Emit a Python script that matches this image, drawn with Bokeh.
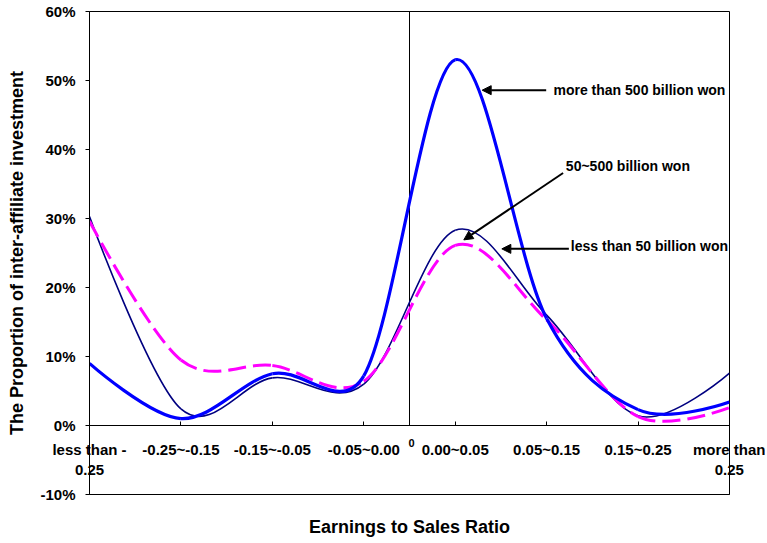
import numpy as np
from bokeh.plotting import figure
from bokeh.models import (FixedTicker, PrintfTickFormatter, Arrow, NormalHead,
                          Label, ColumnDataSource, Range1d, LinearAxis)
from bokeh.embed import file_html
from bokeh.resources import INLINE
from bokeh.core.properties import value

# ---------------- data ----------------
categories = ["less than -\n0.25", "-0.25~-0.15", "-0.15~-0.05", "-0.05~0.00",
              "0.00~0.05", "0.05~0.15", "0.15~0.25", "more than\n0.25"]
more_than_500 = [9.0, 1.0, 7.5, 7.2, 53.0, 15.5, 2.3, 3.4]     # thick blue
mid_50_500 = [29.6, 9.5, 8.7, 6.4, 26.1, 15.3, 1.3, 2.6]       # magenta dashed
less_than_50 = [30.3, 2.4, 6.9, 6.0, 28.3, 16.0, 1.4, 7.6]     # thin navy
y_ticks = [-10, 0, 10, 20, 30, 40, 50, 60]
zero_label = "0"
zero_position = 3.5

# ---------------- layout ----------------
W, H = 765, 541
ML, MR, MT, MB = 89, 36, 11, 47
X0, X1 = 0, len(categories) - 1
Y0, Y1 = -10, 60
SX = (W - ML - MR) / (X1 - X0)
SY = (H - MT - MB) / (Y1 - Y0)
FONT = "Liberation Sans"

x_pos = list(range(len(categories)))


def excel_smooth(xs, ys):
    """Bezier control points in the way spreadsheet 'smoothed lines' draw them."""
    pts = np.column_stack([xs, ys]).astype(float)
    n = len(pts)
    scale = np.array([SX, SY])

    def d(a, b):
        return float(np.hypot(*((b - a) * scale)))

    cols = {k: [] for k in ("x0", "y0", "x1", "y1", "cx0", "cy0", "cx1", "cy1")}
    for i in range(n - 1):
        p1, p2 = pts[i], pts[i + 1]
        p0 = pts[i - 1] if i > 0 else p1
        p3 = pts[i + 2] if i + 2 < n else p2
        d02, d12, d13 = d(p0, p2), d(p1, p2), d(p1, p3)
        if i == 0:
            f = 0.0
        else:
            f = 1 / 6 if d02 / 6 < d12 / 2 else d12 / (2 * d02)
        if i + 2 >= n:
            g = 0.0
        else:
            g = 1 / 6 if d13 / 6 < d12 / 2 else d12 / (2 * d13)
        b1 = p1 + f * (p2 - p0)
        b2 = p2 - g * (p3 - p1)
        cols["x0"].append(p1[0]); cols["y0"].append(p1[1])
        cols["x1"].append(p2[0]); cols["y1"].append(p2[1])
        cols["cx0"].append(b1[0]); cols["cy0"].append(b1[1])
        cols["cx1"].append(b2[0]); cols["cy1"].append(b2[1])
    return ColumnDataSource(cols)


p = figure(width=W, height=H, output_backend="svg", toolbar_location=None,
           x_range=Range1d(X0, X1), y_range=Range1d(Y0, Y1),
           min_border_left=ML, min_border_right=MR, min_border_top=MT,
           min_border_bottom=MB, background_fill_color="white",
           border_fill_color="white", x_axis_location=None)
p.xgrid.visible = False
p.ygrid.visible = False
p.outline_line_color = "black"
p.outline_line_width = 1

# zero reference line
p.segment(x0=[zero_position], y0=[0], x1=[zero_position], y1=[Y1],
          line_color="black", line_width=1)
p.text(x=[zero_position], y=[0], text=[zero_label], text_font=value(FONT),
       text_font_style="bold", text_font_size="11px", text_align="center",
       text_baseline="top", x_offset=2, y_offset=13, text_color="black")

# series
common = dict(x0="x0", y0="y0", x1="x1", y1="y1", cx0="cx0", cy0="cy0",
              cx1="cx1", cy1="cy1")
p.bezier(source=excel_smooth(x_pos, less_than_50), line_color="#000080",
         line_width=1.6, **common)
p.bezier(source=excel_smooth(x_pos, mid_50_500), line_color="#FF00FF",
         line_width=3, line_dash="18 7", **common)
p.bezier(source=excel_smooth(x_pos, more_than_500), line_color="#0000FF",
         line_width=3.2, **common)

# y axis
yax = p.yaxis[0]
yax.ticker = FixedTicker(ticks=y_ticks)
yax.formatter = PrintfTickFormatter(format="%d%%")
yax.minor_tick_line_color = None
yax.major_tick_in = 0
yax.major_tick_out = 4
yax.axis_line_color = "black"
yax.major_tick_line_color = "black"
yax.major_label_text_font = FONT
yax.major_label_text_font_style = "bold"
yax.major_label_text_font_size = "15px"
yax.major_label_text_color = "black"
yax.major_label_standoff = 10
yax.axis_label = "The Proportion of inter-affiliate investment"
yax.axis_label_text_font = FONT
yax.axis_label_text_font_style = "bold"
yax.axis_label_text_font_size = "18px"
yax.axis_label_text_color = "black"
yax.axis_label_standoff = 10

# x axis line + inside ticks on the zero line (no labels of its own)
zax = LinearAxis(fixed_location=0, ticker=FixedTicker(ticks=x_pos),
                 major_label_text_color=None,
                 minor_tick_line_color=None, major_tick_in=4,
                 major_tick_out=0, axis_line_color="black",
                 major_tick_line_color="black")
p.add_layout(zax, "below")

# category labels (axis at the frame bottom, labels raised under the zero line)
cax = LinearAxis(ticker=FixedTicker(ticks=x_pos),
                 major_label_overrides={i: c for i, c in zip(x_pos, categories)},
                 minor_tick_line_color=None, major_tick_in=0,
                 major_tick_out=0, axis_line_color="black",
                 major_tick_line_color=None,
                 major_label_text_font=FONT,
                 major_label_text_font_style="bold",
                 major_label_text_font_size="15px",
                 major_label_text_color="black",
                 major_label_standoff=-54,
                 axis_label="Earnings to Sales Ratio",
                 axis_label_text_font=FONT,
                 axis_label_text_font_style="bold",
                 axis_label_text_font_size="18px",
                 axis_label_text_color="black",
                 axis_label_standoff=36)
p.add_layout(cax, "below")

# annotations
ann = [
    ("more than 500 billion won", 5.075, 48.6, 4.995, 48.6, 4.295, 48.6),
    ("50~500 billion won", 5.21, 37.6, 5.18, 36.6, 4.094, 26.9),
    ("less than 50 billion won", 5.265, 26.0, 5.243, 25.6, 4.51, 25.6),
]
for text, lx, ly, xs, ys, xe, ye in ann:
    p.add_layout(Arrow(end=NormalHead(size=9, fill_color="black",
                                      line_color="black"),
                       x_start=xs, y_start=ys, x_end=xe, y_end=ye,
                       line_color="black", line_width=2))
    p.add_layout(Label(x=lx, y=ly, text=text, text_font=FONT,
                       text_font_style="bold", text_font_size="14px",
                       text_color="black", text_baseline="middle",
                       text_align="left"))

open("out.html", "w").write(file_html(p, INLINE))
